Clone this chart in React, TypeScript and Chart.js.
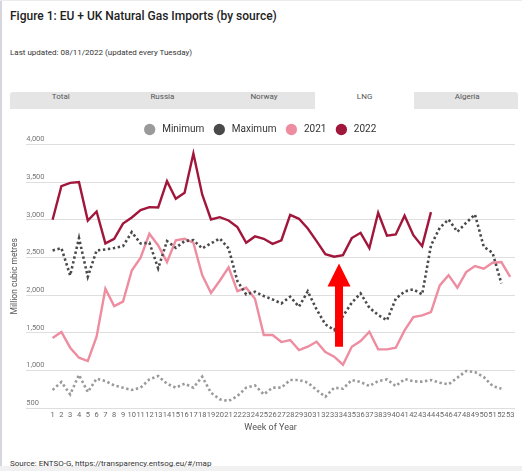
import React, { useEffect, useRef } from "react";
import { Chart, registerables } from "chart.js";

Chart.register(...registerables);

const FONT = "Roboto, 'Noto Sans', sans-serif";

const TITLE = "Figure 1: EU + UK Natural Gas Imports (by source)";
const UPDATED = "Last updated: 08/11/2022 (updated every Tuesday)";
const SOURCE = "Source: ENTSO-G, https://transparency.entsog.eu/#/map";
const TABS = ["Total", "Russia", "Norway", "LNG", "Algeria"];
const ACTIVE_TAB = "LNG";

const WEEKS = [
  1, 2, 3, 4, 5, 6, 7, 8, 9, 10, 11, 12, 13, 14, 15, 16, 17, 18, 19, 20, 21, 22, 23, 24, 25, 26, 27,
  28, 29, 30, 31, 32, 33, 34, 35, 36, 37, 38, 39, 40, 41, 42, 43, 44, 45, 46, 47, 48, 49, 50, 51, 52, 53,
];

const MINIMUM = [
  739, 845, 681, 940, 712, 889, 858, 800, 770, 739, 770, 880, 925, 823, 770, 823, 770, 916, 703, 615,
  593, 659, 770, 800, 681, 770, 770, 872, 872, 836, 739, 650, 770, 756, 872, 845, 792, 858, 880, 792,
  885, 854, 850, 872, 836, 814, 903, 991, 978, 912, 792, 756,
];

const MAXIMUM = [
  2593, 2624, 2261, 2757, 2243, 2593, 2606, 2624, 2650, 2836, 2686, 2695, 2355, 2717, 2628, 2717, 2730,
  2619, 2686, 2752, 2620, 2186, 2009, 2044, 1987, 1942, 1889, 1978, 1845, 2049, 1810, 1611, 1535, 1721,
  1898, 2022, 1832, 1735, 1664, 1951, 2049, 2075, 2009, 2659, 2894, 3004, 2841, 2960, 3071, 2641, 2562,
  2155,
];

const Y2021 = [
  1429, 1509, 1301, 1168, 1124, 1447, 2084, 1854, 1912, 2327, 2496, 2814, 2659, 2438, 2726, 2748, 2695,
  2265, 2027, 2190, 2367, 2053, 2097, 1951, 1469, 1469, 1376, 1403, 1270, 1314, 1381, 1243, 1181, 1075,
  1314, 1389, 1513, 1279, 1279, 1301, 1530, 1708, 1730, 1774, 2128, 2265, 2097, 2305, 2385, 2350, 2429,
  2438, 2243,
];

const Y2022 = [
  3000, 3447, 3490, 3500, 2990, 3110, 2686, 2748, 2950, 3030, 3128, 3168, 3164, 3513, 3279, 3358, 3880,
  3336, 3004, 3035, 2991, 2903, 2695, 2779, 2748, 2681, 2728, 3066, 3013, 2885, 2717, 2544, 2509, 2531,
  2757, 2827, 2624, 3093, 2788, 2805, 3054, 2796, 2650, 3102,
];

const SERIES_LABELS = ["Minimum", "Maximum", "2021", "2022"];
const COLORS = ["#9a9a9a", "#4a4a4a", "#ee8ca0", "#a1163b"];

const Y_MIN = 500;
const Y_MAX = 4000;
const Y_STEP = 500;
const X_MIN = -2;
const X_MAX = 53.55;

// annotation arrow (data coordinates)
const ARROW_WEEK = 33.55;
const ARROW_TIP = 2420;
const ARROW_HEAD_BASE = 2115;
const ARROW_TAIL = 1315;

const toPoints = (vals: number[]) => vals.map((v, i) => ({ x: WEEKS[i], y: v }));

const arrowPlugin = {
  id: "arrowPlugin",
  afterDatasetsDraw(chart: any) {
    const { ctx, scales } = chart;
    const x = scales.x.getPixelForValue(ARROW_WEEK);
    const tip = scales.y.getPixelForValue(ARROW_TIP);
    const base = scales.y.getPixelForValue(ARROW_HEAD_BASE);
    const tail = scales.y.getPixelForValue(ARROW_TAIL);
    const shaft = 4;
    const head = 11.5;
    ctx.save();
    ctx.fillStyle = "#ff0000";
    ctx.beginPath();
    ctx.moveTo(x, tip);
    ctx.lineTo(x + head, base);
    ctx.lineTo(x + shaft, base);
    ctx.lineTo(x + shaft, tail);
    ctx.lineTo(x - shaft, tail);
    ctx.lineTo(x - shaft, base);
    ctx.lineTo(x - head, base);
    ctx.closePath();
    ctx.fill();
    ctx.restore();
  },
};

function LngChart() {
  const ref = useRef<HTMLCanvasElement | null>(null);
  useEffect(() => {
    if (!ref.current) return;
    Chart.defaults.font.family = FONT;
    const seriesData = [MINIMUM, MAXIMUM, Y2021, Y2022];
    const chart = new Chart(ref.current, {
      type: "line",
      data: {
        datasets: seriesData.map((vals, i) => ({
          label: SERIES_LABELS[i],
          data: toPoints(vals),
          borderColor: COLORS[i],
          backgroundColor: COLORS[i],
          borderWidth: i < 2 ? 2.6 : 2.4,
          borderDash: i < 2 ? [2.4, 2.6] : [],
          pointRadius: 0,
          tension: 0,
          fill: false,
        })),
      },
      options: {
        animation: false,
        responsive: true,
        maintainAspectRatio: false,
        layout: { padding: { left: 6, right: 7, top: 2.5, bottom: 7.2 } },
        plugins: {
          tooltip: { enabled: false },
          legend: {
            position: "top",
            labels: {
              usePointStyle: true,
              boxHeight: 8,
              boxWidth: 10,
              padding: 10,
              color: "#333",
              font: { size: 10, family: FONT },
              generateLabels: (c: any) =>
                Chart.defaults.plugins.legend.labels.generateLabels(c).map((l: any) => ({
                  ...l,
                  text: " " + l.text,
                  lineWidth: 0,
                  lineDash: [],
                  fillStyle: l.strokeStyle,
                  pointStyle: "circle",
                })),
            },
          },
        },
        scales: {
          x: {
            type: "linear",
            min: X_MIN,
            max: X_MAX,
            afterBuildTicks: (axis: any) => {
              axis.ticks = WEEKS.map((w) => ({ value: w }));
            },
            grid: { display: false, drawTicks: false },
            border: { display: false },
            ticks: {
              autoSkip: false,
              maxRotation: 0,
              padding: 3,
              color: "#666",
              font: { size: 7.5, family: FONT },
              callback: (v: any) => String(v),
            },
            title: {
              display: true,
              text: "Week of Year",
              color: "#555",
              font: { size: 9, family: FONT },
              padding: { top: -1, bottom: 2 },
            },
          },
          y: {
            min: Y_MIN,
            max: Y_MAX,
            grid: { color: "#dedede", lineWidth: 1, drawTicks: false },
            border: { display: false },
            ticks: {
              stepSize: Y_STEP,
              mirror: true,
              padding: 0,
              labelOffset: -5,
              color: "#777",
              font: { size: 7.5, family: FONT },
            },
            title: {
              display: true,
              text: "Million cubic metres",
              color: "#555",
              font: { size: 8.5, family: FONT },
              padding: { top: 4, bottom: 6 },
            },
          },
        },
      },
      plugins: [arrowPlugin],
    });
    return () => chart.destroy();
  }, []);
  return (
    <div style={{ position: "absolute", left: 0, top: 112, width: 522, height: 330 }}>
      <canvas ref={ref} />
    </div>
  );
}

export default function App() {
  return (
    <div
      style={{
        position: "absolute",
        left: 0,
        top: 0,
        width: 522,
        height: 471,
        background: "#fff",
        overflow: "hidden",
        fontFamily: FONT,
      }}
    >
      <div style={{ position: "absolute", left: 0, top: 0, width: 2, height: 471, background: "#d6d6de" }} />
      <div style={{ position: "absolute", left: 0, top: 0, width: 522, height: 1, background: "#ececec" }} />
      <div style={{ position: "absolute", left: 0, top: 466, width: 522, height: 5, background: "#f1f1f1" }} />
      <div
        style={{
          position: "absolute",
          left: 10,
          top: 9,
          fontSize: 12,
          lineHeight: "14px",
          fontWeight: 500,
          color: "#222",
          whiteSpace: "nowrap",
        }}
      >
        {TITLE}
      </div>
      <div
        style={{
          position: "absolute",
          left: 10,
          top: 47.5,
          fontSize: 8,
          lineHeight: "10px",
          color: "#333",
          whiteSpace: "nowrap",
        }}
      >
        {UPDATED}
      </div>
      <div
        style={{
          position: "absolute",
          left: 10,
          top: 92,
          width: 508,
          height: 16.5,
          background: "#e5e5e5",
          borderRadius: "3px 3px 0 0",
        }}
      />
      {TABS.map((t, i) => {
        const active = t === ACTIVE_TAB;
        const w = 508 / TABS.length;
        return (
          <div
            key={t}
            style={{
              position: "absolute",
              left: 10 + i * w,
              top: active ? 84 : 92,
              width: w - (active ? 2 : 0),
              height: active ? 26 : 16.5,
              background: active ? "#fff" : "transparent",
              borderRadius: "3px 3px 0 0",
            }}
          >
            <div
              style={{
                position: "absolute",
                left: 0,
                right: 0,
                top: active ? 7.5 : -0.5,
                textAlign: "center",
                fontSize: 8,
                lineHeight: "10px",
                color: "#555",
              }}
            >
              {t}
            </div>
          </div>
        );
      })}
      <LngChart />
      <div
        style={{
          position: "absolute",
          left: 10,
          top: 459,
          fontSize: 8,
          lineHeight: "10px",
          color: "#333",
          whiteSpace: "nowrap",
        }}
      >
        {SOURCE}
      </div>
    </div>
  );
}
